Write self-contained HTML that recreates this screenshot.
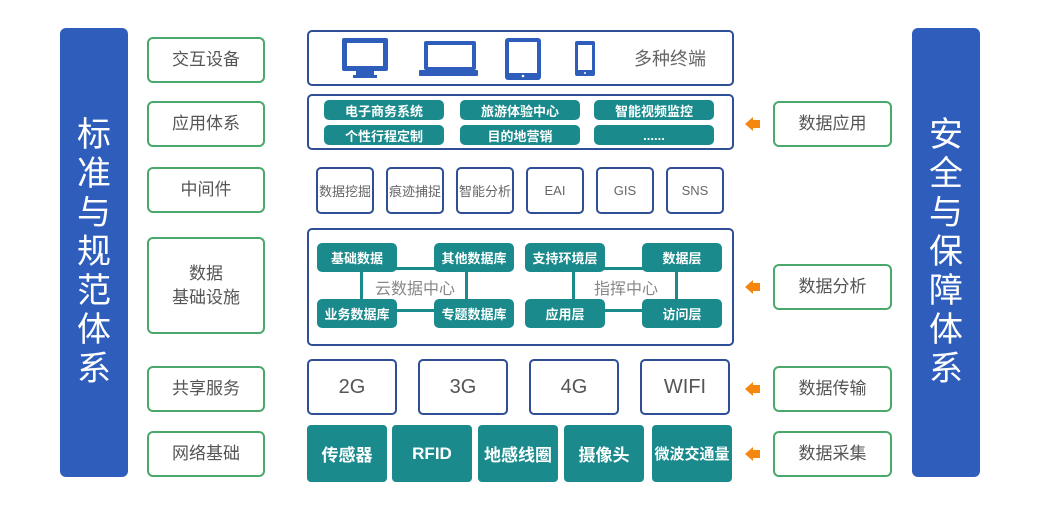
<!DOCTYPE html>
<html><head><meta charset="utf-8"><style>
body{margin:0;width:1044px;height:505px;background:#fff;position:relative;overflow:hidden;font-family:"Liberation Sans","Noto Sans CJK SC",sans-serif}
div{box-sizing:border-box;position:absolute}
.bar{background:#2e5dbb;border-radius:6px;color:#fff;font-size:34px;line-height:39px;text-align:center;display:flex;align-items:center;justify-content:center;width:68px}
.g{border:2px solid #4aa86a;border-radius:6px;color:#555;font-size:17px;display:flex;align-items:center;justify-content:center;text-align:center;line-height:24px;background:#fff}
.b{border:2px solid #2e4f96;border-radius:5px;background:#fff}
.p{background:#1a8a8c;color:#fff;border-radius:5px;font-size:13px;font-weight:bold;display:flex;align-items:center;justify-content:center}
.m{border:2px solid #2e4f96;border-radius:5px;color:#666;font-size:13px;display:flex;align-items:center;justify-content:center;background:#fff}
.n{border:2px solid #2e4f96;border-radius:5px;color:#555;font-size:20px;display:flex;align-items:center;justify-content:center}
.t{background:#1a8a8c;color:#fff;border-radius:4px;font-size:17px;font-weight:bold;display:flex;align-items:center;justify-content:center}
.ln{background:#1a8a8c}
.ar{width:0;height:0;border-top:7px solid transparent;border-bottom:7px solid transparent;border-right:8px solid #f5870f}
.as{background:#f5870f;width:7px;height:8px}
</style></head><body>
<div class="bar" style="left:60px;top:28px;height:449px">标<br>准<br>与<br>规<br>范<br>体<br>系</div>
<div class="bar" style="left:912px;top:28px;height:449px">安<br>全<br>与<br>保<br>障<br>体<br>系</div>

<div class="g" style="left:147px;top:37px;width:118px;height:46px">交互设备</div>
<div class="g" style="left:147px;top:101px;width:118px;height:46px">应用体系</div>
<div class="g" style="left:147px;top:167px;width:118px;height:46px">中间件</div>
<div class="g" style="left:147px;top:237px;width:118px;height:97px">数据<br>基础设施</div>
<div class="g" style="left:147px;top:366px;width:118px;height:46px">共享服务</div>
<div class="g" style="left:147px;top:431px;width:118px;height:46px">网络基础</div>

<div class="g" style="left:773px;top:101px;width:119px;height:46px">数据应用</div>
<div class="g" style="left:773px;top:264px;width:119px;height:46px">数据分析</div>
<div class="g" style="left:773px;top:366px;width:119px;height:46px">数据传输</div>
<div class="g" style="left:773px;top:431px;width:119px;height:46px">数据采集</div>

<div class="ar" style="left:745px;top:117px"></div><div class="as" style="left:753px;top:120px"></div>
<div class="ar" style="left:745px;top:280px"></div><div class="as" style="left:753px;top:283px"></div>
<div class="ar" style="left:745px;top:382px"></div><div class="as" style="left:753px;top:385px"></div>
<div class="ar" style="left:745px;top:447px"></div><div class="as" style="left:753px;top:450px"></div>

<!-- terminals -->
<div class="b" style="left:307px;top:30px;width:427px;height:56px"></div>
<svg style="position:absolute;left:0;top:0" width="1044" height="505">
<g fill="#2e5dbb">
<rect x="342" y="38" width="46" height="33" rx="2"/><rect x="347" y="43" width="36" height="23" fill="#fff"/><rect x="356" y="71" width="18" height="5"/><rect x="353" y="75" width="24" height="3"/>
<rect x="424" y="41" width="52" height="29" rx="2"/><rect x="428" y="45" width="44" height="22" fill="#fff"/><rect x="419" y="70" width="59" height="6" rx="1"/>
<rect x="505" y="38" width="36" height="42" rx="3"/><rect x="509" y="42" width="28" height="31" fill="#fff"/><circle cx="523" cy="76" r="1.3" fill="#fff"/>
<rect x="575" y="41" width="20" height="35" rx="2"/><rect x="578" y="45" width="14" height="25" fill="#fff"/><circle cx="585" cy="73" r="1" fill="#fff"/>
</g>
<text x="634" y="65" font-size="18" fill="#666" font-family="Liberation Sans,Noto Sans CJK SC,sans-serif">多种终端</text>
</svg>

<!-- apps -->
<div class="b" style="left:307px;top:94px;width:427px;height:56px"></div>
<div class="p" style="left:324px;top:100px;width:120px;height:20px">电子商务系统</div>
<div class="p" style="left:460px;top:100px;width:120px;height:20px">旅游体验中心</div>
<div class="p" style="left:594px;top:100px;width:120px;height:20px">智能视频监控</div>
<div class="p" style="left:324px;top:125px;width:120px;height:20px">个性行程定制</div>
<div class="p" style="left:460px;top:125px;width:120px;height:20px">目的地营销</div>
<div class="p" style="left:594px;top:125px;width:120px;height:20px">......</div>

<!-- middleware -->
<div class="m" style="left:316px;top:167px;width:58px;height:47px">数据挖掘</div>
<div class="m" style="left:386px;top:167px;width:58px;height:47px">痕迹捕捉</div>
<div class="m" style="left:456px;top:167px;width:58px;height:47px">智能分析</div>
<div class="m" style="left:526px;top:167px;width:58px;height:47px">EAI</div>
<div class="m" style="left:596px;top:167px;width:58px;height:47px">GIS</div>
<div class="m" style="left:666px;top:167px;width:58px;height:47px">SNS</div>

<!-- infra -->
<div class="b" style="left:307px;top:228px;width:427px;height:118px"></div>
<div class="ln" style="left:360px;top:267px;width:3px;height:36px"></div>
<div class="ln" style="left:465px;top:267px;width:3px;height:36px"></div>
<div class="ln" style="left:395px;top:267px;width:40px;height:3px"></div>
<div class="ln" style="left:395px;top:309px;width:40px;height:3px"></div>
<div class="ln" style="left:572px;top:267px;width:3px;height:36px"></div>
<div class="ln" style="left:675px;top:267px;width:3px;height:36px"></div>
<div class="ln" style="left:603px;top:267px;width:40px;height:3px"></div>
<div class="ln" style="left:603px;top:309px;width:40px;height:3px"></div>
<div style="left:370px;top:275px;width:90px;text-align:center;color:#888;font-size:16px;background:#fff">云数据中心</div>
<div style="left:582px;top:275px;width:88px;text-align:center;color:#888;font-size:16px;background:#fff">指挥中心</div>
<div class="p" style="left:317px;top:243px;width:80px;height:29px">基础数据</div>
<div class="p" style="left:434px;top:243px;width:80px;height:29px">其他数据库</div>
<div class="p" style="left:525px;top:243px;width:80px;height:29px">支持环境层</div>
<div class="p" style="left:642px;top:243px;width:80px;height:29px">数据层</div>
<div class="p" style="left:317px;top:299px;width:80px;height:29px">业务数据库</div>
<div class="p" style="left:434px;top:299px;width:80px;height:29px">专题数据库</div>
<div class="p" style="left:525px;top:299px;width:80px;height:29px">应用层</div>
<div class="p" style="left:642px;top:299px;width:80px;height:29px">访问层</div>

<!-- network -->
<div class="n" style="left:307px;top:359px;width:90px;height:56px">2G</div>
<div class="n" style="left:418px;top:359px;width:90px;height:56px">3G</div>
<div class="n" style="left:529px;top:359px;width:90px;height:56px">4G</div>
<div class="n" style="left:640px;top:359px;width:90px;height:56px">WIFI</div>

<div class="t" style="left:307px;top:425px;width:80px;height:57px">传感器</div>
<div class="t" style="left:392px;top:425px;width:80px;height:57px">RFID</div>
<div class="t" style="left:478px;top:425px;width:80px;height:57px">地感线圈</div>
<div class="t" style="left:564px;top:425px;width:80px;height:57px">摄像头</div>
<div class="t" style="left:652px;top:425px;width:80px;height:57px;font-size:15px">微波交通量</div>
</body></html>
